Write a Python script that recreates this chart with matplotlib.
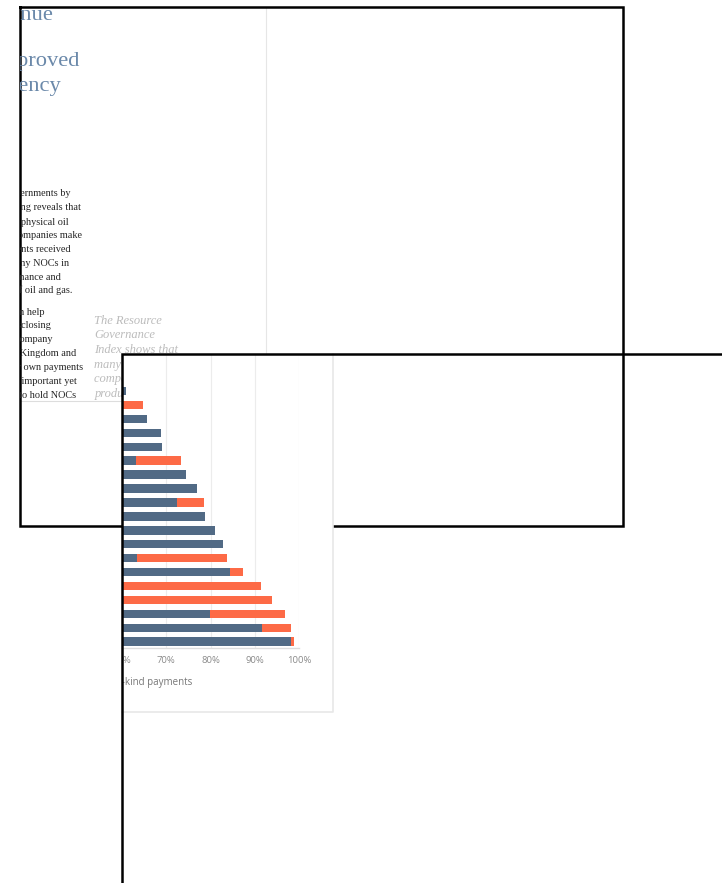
import matplotlib
matplotlib.use("Agg")
import matplotlib.pyplot as plt

W, H = 722, 883

# bars (share of payments, %), top to bottom
rows = list(range(19))
cash_pct = [60.9, 0, 65.6, 68.8, 69.1, 63.2, 74.5, 76.9, 72.5, 78.8,
            80.9, 82.7, 63.3, 84.3, 0, 0, 79.8, 91.6, 98.1]
inkind_pct = [0, 64.7, 0, 0, 0, 10.0, 0, 0, 5.9, 0,
              0, 0, 20.3, 3.0, 91.3, 93.8, 16.9, 6.5, 0.6]
tick_vals = [60, 70, 80, 90, 100]
tick_labels = ["60%", "70%", "80%", "90%", "100%"]
legend_text = "In-kind payments"

# page text (only the right part of each line is visible)
title_lines = ["Revenue", "Improved", "Transparency"]
body_lines = ["payments to governments by", "the reporting reveals that",
              "sales of physical oil", "oil companies make",
              "payments received", "by many NOCs in", "governance and",
              "sales of oil and gas.",
              "can help", "disclosing", "company", "United Kingdom and",
              "their own payments", "is important yet", "to hold NOCs"]
quote_lines = ["The Resource", "Governance", "Index shows that",
               "many national oil", "companies sell the", "production of"]

DARK = "#516a85"
ORANGE = "#fd6a46"


def px_rect(x, y, w, h):
    return [x / W, 1 - (y + h) / H, w / W, h / H]


def clipped(t, ax):
    t.set_clip_box(ax.bbox)
    t.set_clip_on(True)
    return t


fig = plt.figure(figsize=(W / 100, H / 100), dpi=100)
fig.patch.set_facecolor("white")

# ---- page crop (frame 1) ----
doc = fig.add_axes(px_rect(20, 7, 603, 519))
doc.set_xlim(20, 623)
doc.set_ylim(526, 7)
doc.axis("off")

title_pos = [(53.5, 15), (80, 61.5), (61.7, 87)]
for s, (x, y) in zip(title_lines, title_pos):
    clipped(doc.text(x, y, s, ha="right", va="center", fontsize=16.2,
                     family="Liberation Serif", color="#6b89aa"), doc)

body_pos = [(70.7, 194), (81, 208), (68.7, 222), (82, 235.5), (70.7, 249),
            (69.3, 263), (60.7, 277), (72.7, 290.5),
            (45, 312.5), (51, 326), (52.7, 340), (76, 353.5), (82.7, 367.5),
            (77.3, 381.5), (76, 395)]
for s, (x, y) in zip(body_lines, body_pos):
    clipped(doc.text(x, y, s, ha="right", va="center", fontsize=7.4,
                     family="Liberation Serif", color="#262626"), doc)

for i, s in enumerate(quote_lines):
    clipped(doc.text(94.3, 320.5 + 14.7 * i, s, ha="left", va="center",
                     fontsize=9, style="italic", family="Liberation Serif",
                     color="#bcbcbc"), doc)

doc.plot([266, 266], [7, 526], color="#e6e6e6", lw=0.8)
doc.plot([20, 300], [401, 401], color="#dddddd", lw=0.8)
doc.plot([20, 623, 623, 20, 20], [7, 7, 526, 526, 7], color="black",
         lw=1.8, clip_on=False, solid_joinstyle="miter")

# ---- chart panel (frame 2) ----
panel = fig.add_axes(px_rect(122, 354, 211, 358))
panel.set_xlim(122, 333)
panel.set_ylim(712, 354)
panel.set_facecolor("white")
panel.set_xticks([])
panel.set_yticks([])
for sp in panel.spines.values():
    sp.set_visible(False)
panel.plot([333, 333, 122], [354, 712, 712], color="#e8e8e8", lw=1.2,
           clip_on=False)
clipped(panel.text(192.5, 682, legend_text, ha="right", va="center",
                   fontsize=7.0, family="Open Sans", color="#777777"), panel)

ax = fig.add_axes(px_rect(122, 354, 177.3, 294))
ax.set_facecolor("none")
ax.set_xlim(60.42, 100)
ax.set_ylim(18.45, -2.66)
ax.barh(rows, cash_pct, height=0.61, color=DARK, zorder=3)
ax.barh(rows, inkind_pct, left=cash_pct, height=0.61, color=ORANGE, zorder=3)
ax.set_xticks(tick_vals)
ax.set_xticklabels(tick_labels, family="Open Sans", fontsize=6.8,
                   color="#8a8a8a")
ax.tick_params(axis="x", length=0, pad=6)
ax.set_yticks([])
ax.grid(axis="x", color="#ececec", lw=0.8, zorder=0)
for name in ["top", "right", "left"]:
    ax.spines[name].set_visible(False)
ax.spines["bottom"].set_color("#dddddd")
ax.spines["bottom"].set_linewidth(1.0)
for tick in ax.xaxis.get_major_ticks():
    clipped(tick.label1, panel)

# ---- frame 2 lines on top ----
ov = fig.add_axes([0, 0, 1, 1])
ov.set_xlim(0, W)
ov.set_ylim(H, 0)
ov.axis("off")
ov.plot([722, 122, 122], [354, 354, 883], color="black", lw=1.8,
        solid_joinstyle="miter")

fig.savefig("out.png", dpi=100)
